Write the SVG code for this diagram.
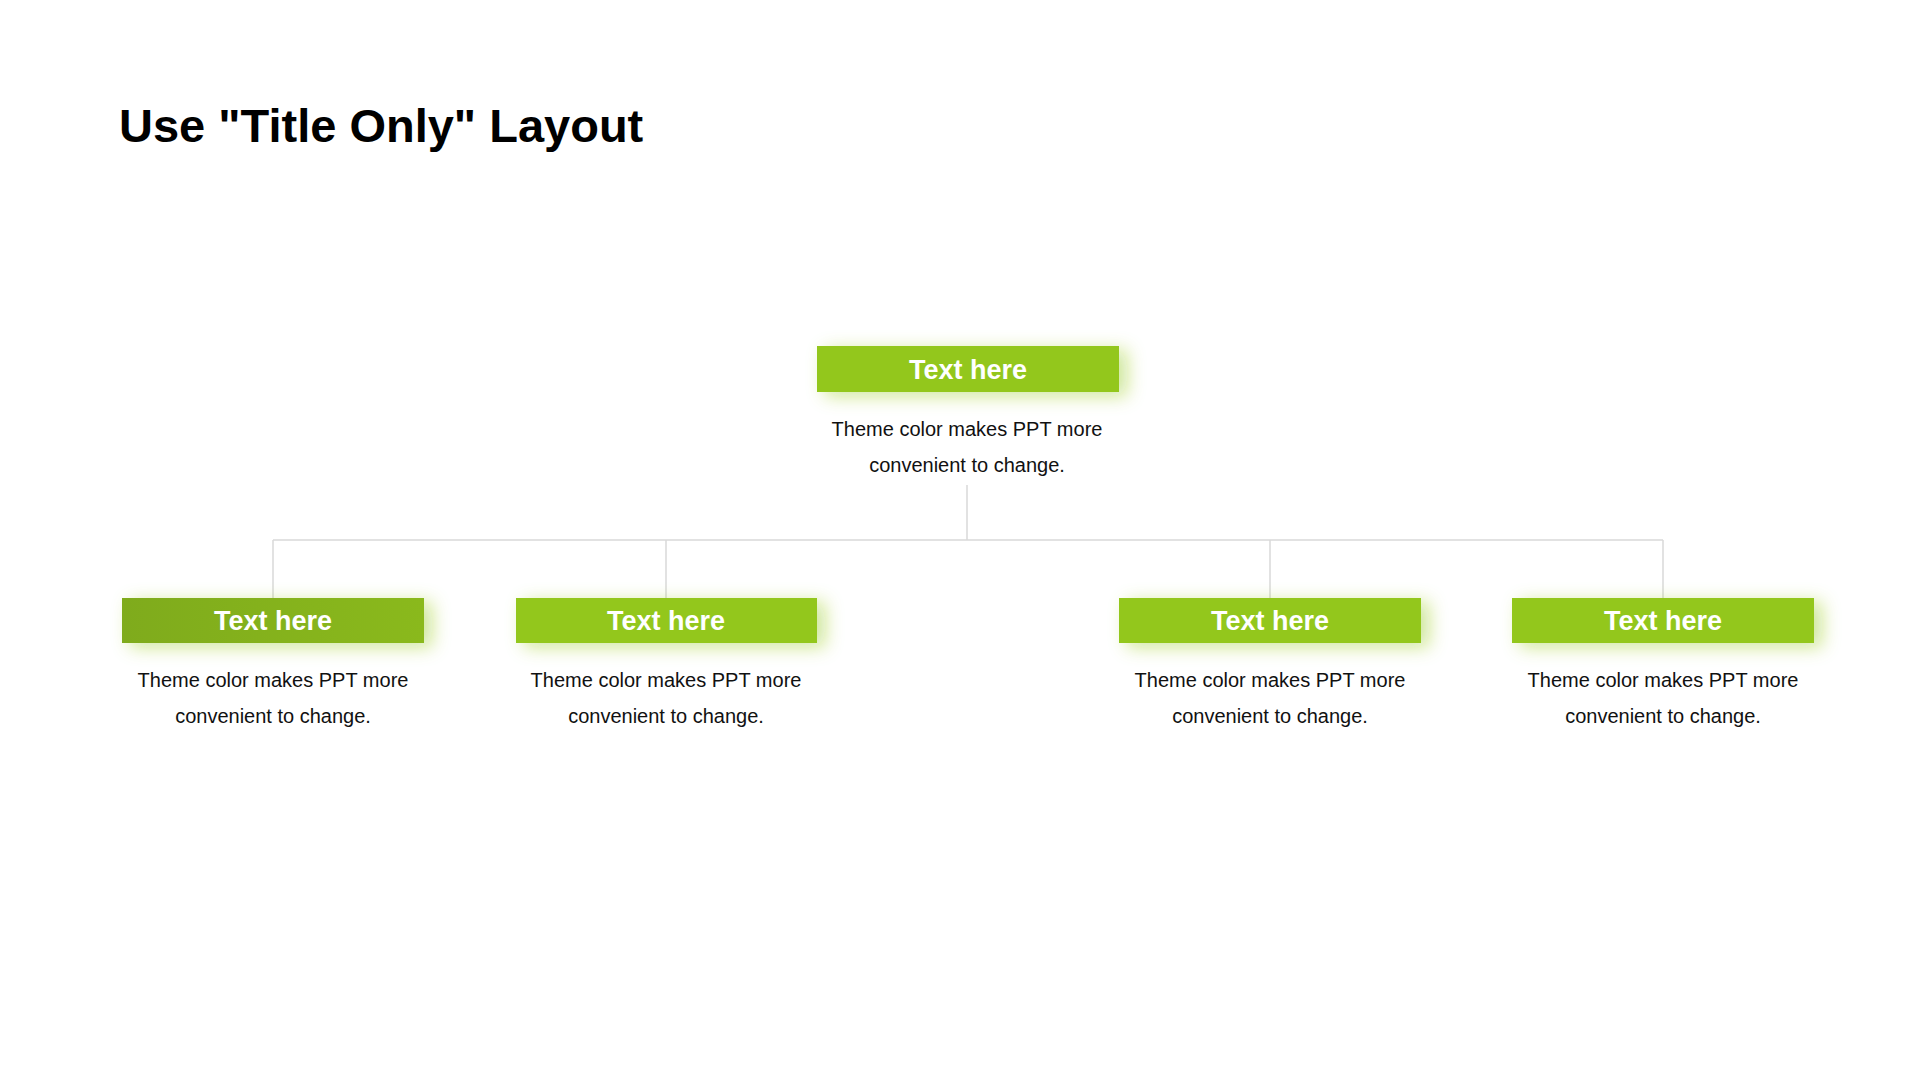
<svg xmlns="http://www.w3.org/2000/svg" width="1920" height="1080" viewBox="0 0 1920 1080">
<defs>
<filter id="glow" x="-20%" y="-60%" width="140%" height="220%">
<feDropShadow dx="8" dy="4" stdDeviation="9" flood-color="#92c71b" flood-opacity="0.45"/>
</filter>
<linearGradient id="dk" x1="0" y1="0" x2="1" y2="0"><stop offset="0" stop-color="#7fab1a"/><stop offset="1" stop-color="#8ab91b"/></linearGradient>
</defs>
<style>
.box{fill:#93c71b;filter:url(#glow)}
.lbl{font-family:"Liberation Sans",Arial,sans-serif;font-weight:bold;font-size:27px;fill:#fff;text-anchor:middle}
.desc{font-family:"Liberation Sans",Arial,sans-serif;font-size:20px;fill:#111;text-anchor:middle}
.ln{stroke:#d9d9d9;stroke-width:1.5;fill:none}
</style>
<rect width="1920" height="1080" fill="#fff"/>
<text x="119" y="142" font-family="Liberation Sans,Arial,sans-serif" font-weight="bold" font-size="47" fill="#000">Use "Title Only" Layout</text>
<g id="connectors">
<path class="ln" d="M967 485V540M273 540H1663M273 540V598M666 540V598M1270 540V598M1663 540V598"/>
</g>
<g id="top"><rect class="box" x="817" y="346" width="302" height="46"/><text class="lbl" x="968" y="379">Text here</text>
<text class="desc" x="967" y="436">Theme color makes PPT more</text><text class="desc" x="967" y="472">convenient  to change.</text></g>
<g id="c1"><rect class="box" x="122" y="598" width="302" height="45" style="fill:url(#dk)"/><text class="lbl" x="273" y="630">Text here</text>
<text class="desc" x="273" y="687">Theme color makes PPT more</text><text class="desc" x="273" y="723">convenient  to change.</text></g>
<g id="c2"><rect class="box" x="516" y="598" width="301" height="45"/><text class="lbl" x="666" y="630">Text here</text>
<text class="desc" x="666" y="687">Theme color makes PPT more</text><text class="desc" x="666" y="723">convenient  to change.</text></g>
<g id="c3"><rect class="box" x="1119" y="598" width="302" height="45"/><text class="lbl" x="1270" y="630">Text here</text>
<text class="desc" x="1270" y="687">Theme color makes PPT more</text><text class="desc" x="1270" y="723">convenient  to change.</text></g>
<g id="c4"><rect class="box" x="1512" y="598" width="302" height="45"/><text class="lbl" x="1663" y="630">Text here</text>
<text class="desc" x="1663" y="687">Theme color makes PPT more</text><text class="desc" x="1663" y="723">convenient  to change.</text></g>
</svg>
